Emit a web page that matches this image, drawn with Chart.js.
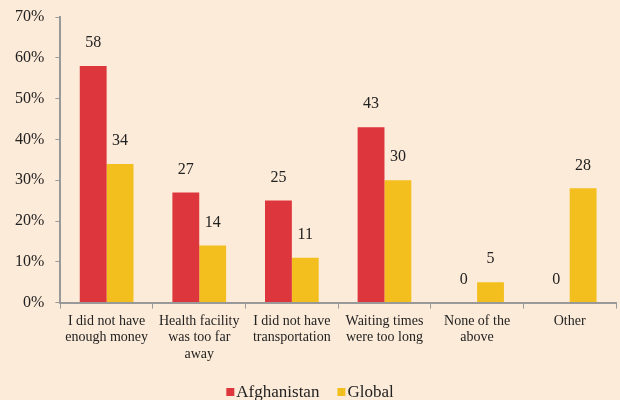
<!DOCTYPE html>
<html>
<head>
<meta charset="utf-8">
<script src="https://cdn.jsdelivr.net/npm/chart.js@4"></script>
<style>
  html, body { margin: 0; padding: 0; background: #fdebd9; }
  #wrap { width: 620px; height: 400px; position: relative; }
</style>
</head>
<body>
<div id="wrap"><canvas id="grafico"></canvas></div>
<script>
// categorias e valores (em %)
const categorias = [
    ["I did not have", "enough money"],
    ["Health facility", "was too far", "away"],
    ["I did not have", "transportation"],
    ["Waiting times", "were too long"],
    ["None of the", "above"],
    ["Other"]
];
const afeganistao = [58, 27, 25, 43, 0, 0];
const global = [34, 14, 11, 30, 5, 28];
const ticksY = [0, 10, 20, 30, 40, 50, 60, 70];

const fonteSerif = "'Liberation Serif', 'DejaVu Serif', serif";

// rótulos de valor acima das barras
const rotulosPlugin = {
    id: "rotulos",
    afterDatasetsDraw(chart) {
        const ctx = chart.ctx;
        ctx.save();
        ctx.font = "16px " + fonteSerif;
        ctx.fillStyle = "#222";
        ctx.textAlign = "center";
        ctx.textBaseline = "middle";
        chart.data.datasets.forEach((ds, i) => {
            const meta = chart.getDatasetMeta(i);
            meta.data.forEach((bar, j) => {
                ctx.fillText(String(ds.data[j]), bar.x, bar.y - 23);
            });
        });
        ctx.restore();
    }
};

// legenda desenhada à mão (caixinha colada no texto, como no original)
const legendaPlugin = {
    id: "legenda",
    afterDraw(chart) {
        const ctx = chart.ctx;
        ctx.save();
        ctx.font = "17px " + fonteSerif;
        ctx.textBaseline = "middle";
        const caixa = 8, folga = 2, entre = 18;
        const itens = chart.data.datasets.map(ds => ({
            texto: ds.label,
            cor: ds.backgroundColor,
            largura: caixa + folga + ctx.measureText(ds.label).width
        }));
        const total = itens.reduce((s, it) => s + it.largura, 0) + entre * (itens.length - 1);
        let x = chart.width / 2 - total / 2;
        const y = chart.height - 7;
        itens.forEach(it => {
            ctx.fillStyle = it.cor;
            ctx.fillRect(x, y - 5, caixa, caixa);
            ctx.fillStyle = "#222";
            ctx.fillText(it.texto, x + caixa + folga, y);
            x += it.largura + entre;
        });
        ctx.restore();
    }
};

new Chart(document.getElementById("grafico"), {
    type: "bar",
    data: {
        labels: categorias,
        datasets: [
            {
                label: "Afghanistan",
                data: afeganistao,
                backgroundColor: "#dd363c",
                barPercentage: 1.0,
                categoryPercentage: 0.58
            },
            {
                label: "Global",
                data: global,
                backgroundColor: "#f2bf1e",
                barPercentage: 1.0,
                categoryPercentage: 0.58
            }
        ]
    },
    options: {
        responsive: true,
        maintainAspectRatio: false,
        animation: false,
        layout: { padding: { top: 17, right: 4, left: 4, bottom: 33 } },
        plugins: {
            legend: { display: false },
            tooltip: { enabled: false }
        },
        scales: {
            x: {
                grid: {
                    drawOnChartArea: false,
                    color: "#999",
                    tickLength: 6,
                    offset: true
                },
                border: { color: "#999", width: 2 },
                ticks: {
                    font: { family: fonteSerif, size: 14 },
                    color: "#222",
                    maxRotation: 0,
                    autoSkip: false,
                    padding: 4
                }
            },
            y: {
                min: 0,
                max: 70,
                afterBuildTicks: (axis) => {
                    axis.ticks = ticksY.map(v => ({ value: v }));
                },
                afterFit: (escala) => { escala.paddingTop = 0; },
                grid: {
                    drawOnChartArea: false,
                    color: "#999",
                    tickLength: 5
                },
                border: { color: "#999", width: 2 },
                ticks: {
                    font: { family: fonteSerif, size: 16 },
                    color: "#222",
                    padding: 11,
                    callback: (v) => v + "%"
                }
            }
        }
    },
    plugins: [rotulosPlugin, legendaPlugin]
});
</script>
</body>
</html>
